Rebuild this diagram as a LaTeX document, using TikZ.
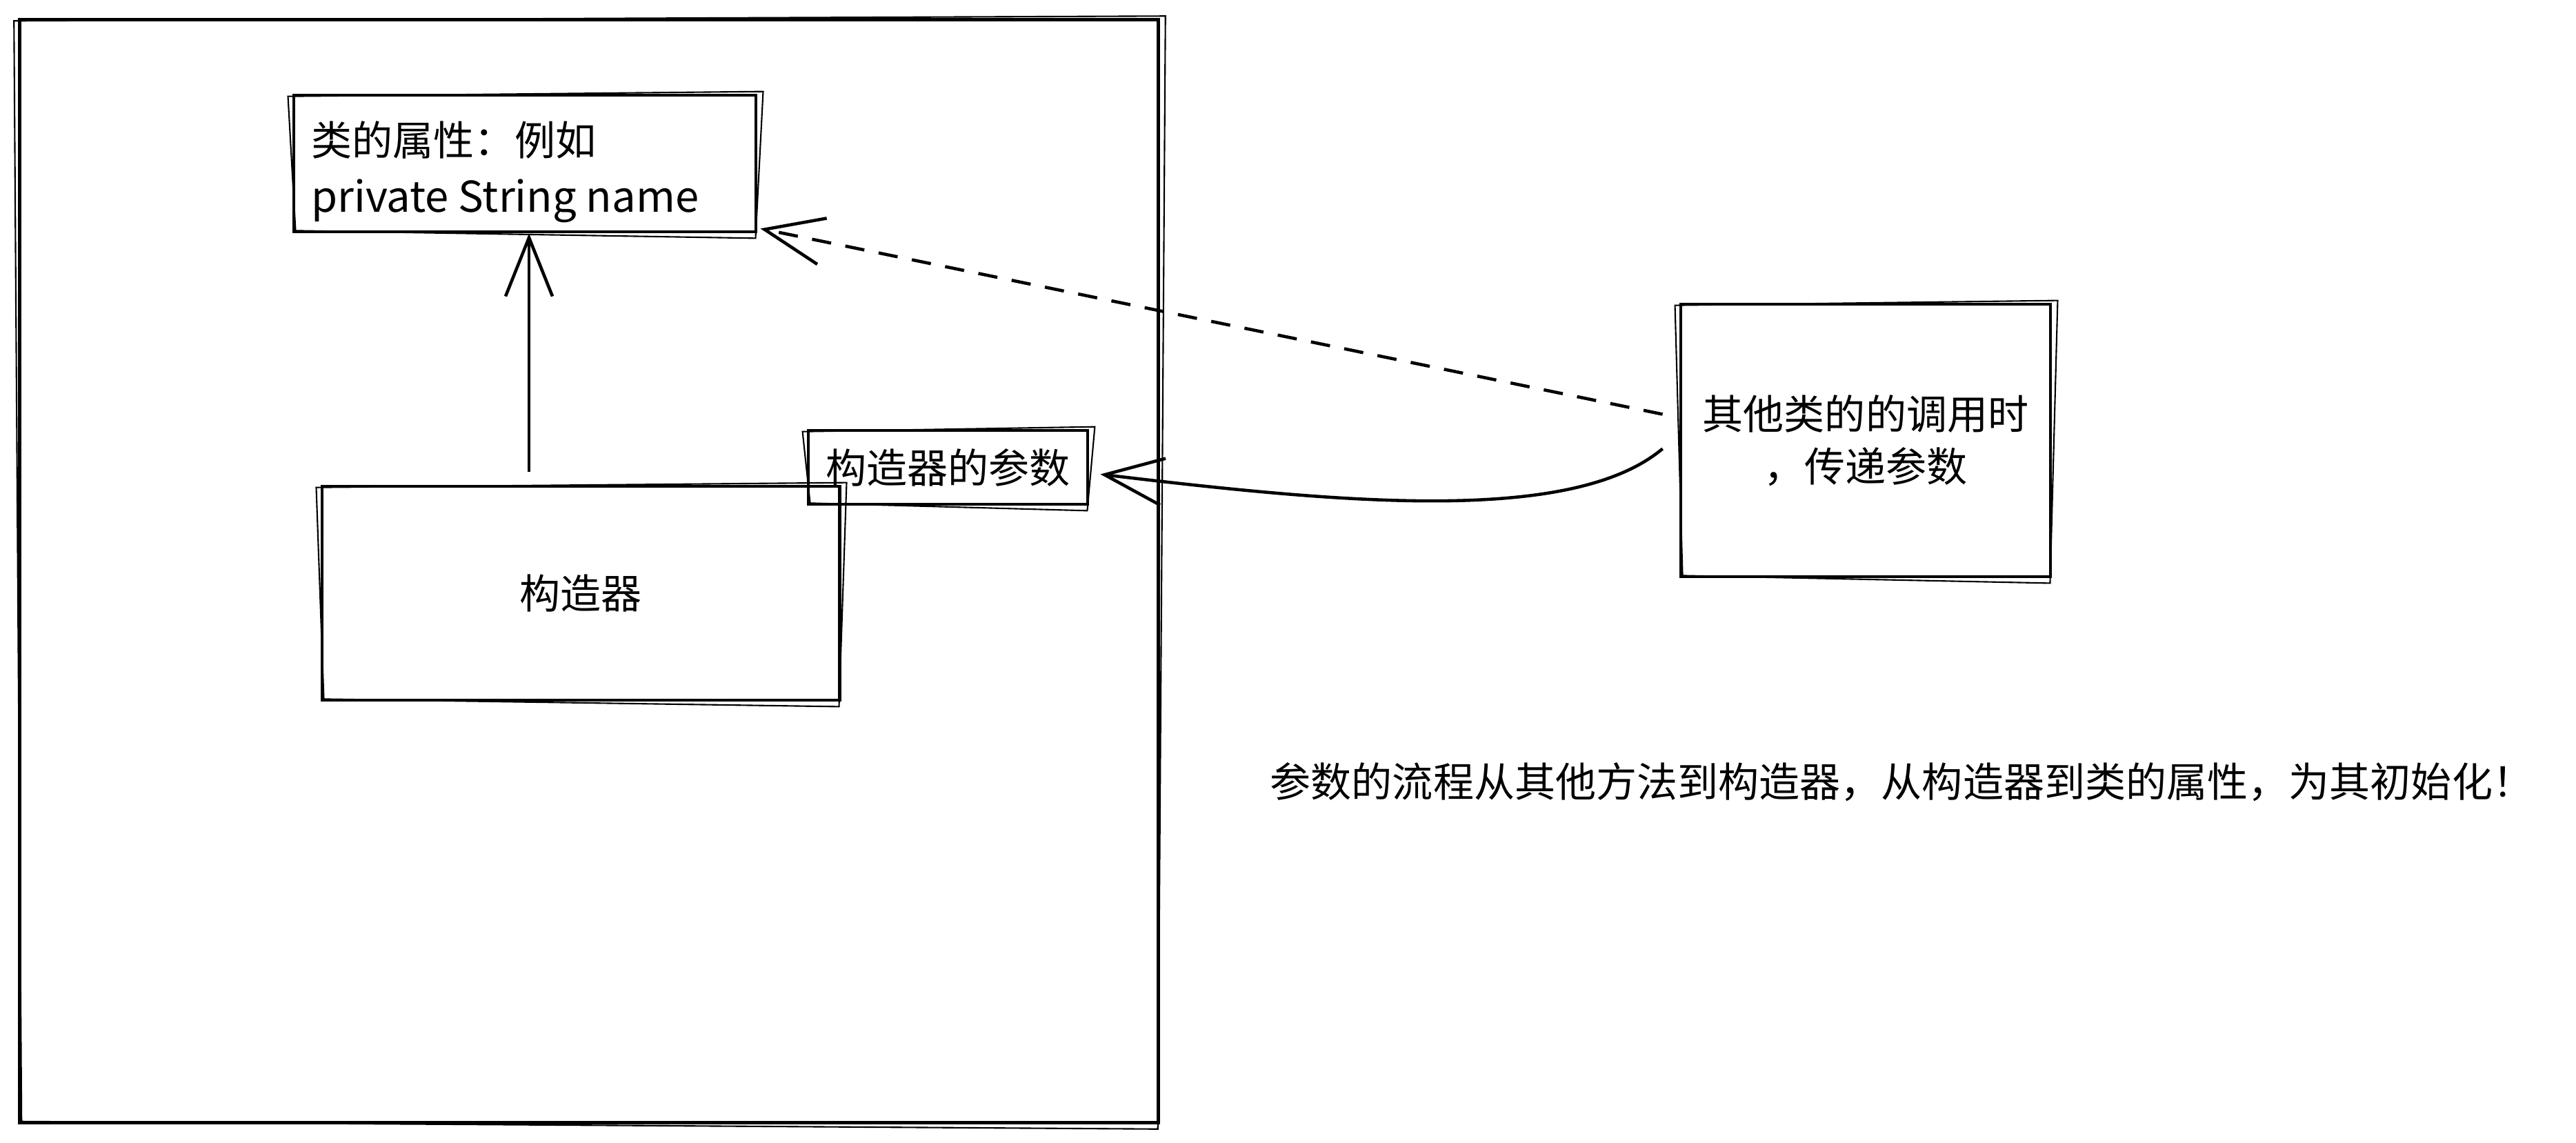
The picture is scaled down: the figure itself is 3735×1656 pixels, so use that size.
\documentclass[tikz,border=0pt]{standalone}
\usepackage{fontspec}
\setmainfont{Noto Sans CJK SC}
\usetikzlibrary{arrows.meta}
\newcommand\skb[1]{\draw[sk] ([shift={(-6,4)}]#1.north west) -- ([shift={(8,-3)}]#1.north east) -- ([shift={(-3,7)}]#1.south east) -- ([shift={(5,-4)}]#1.south west) -- cycle;}
\begin{document}
\begin{tikzpicture}[x=0.01cm,y=-0.01cm,
  box/.style={draw, line width=1.3pt, rectangle, inner sep=0pt},
  sk/.style={line width=0.6pt},
  txt/.style={font=\fontsize{16.8}{22}\selectfont},
  arr/.style={line width=1.3pt, -{Straight Barb[length=0.85cm,width=0.68cm]}},
]
\useasboundingbox (0,0) rectangle (3735,1656);
\fill[white] (0,0) rectangle (3735,1656);

\node[box, minimum width=16.5cm, minimum height=15.98cm] (outer) at (854,828) {};
\skb{outer}

\node[box, minimum width=6.70cm, minimum height=1.98cm] (attr) at (761,237) {};
\node[anchor=north west, inner sep=0pt, align=left, font=\fontsize{16.8}{23.5}\selectfont]
      (attrtext) at ([shift={(27,39)}]attr.north west)
      {类的属性：例如\\{\fontsize{17.5}{23.5}\selectfont private String name}};
\skb{attr}

\node[box, minimum width=7.5cm, minimum height=3.1cm, txt] (ctor) at (842,860) {构造器};
\skb{ctor}

\node[box, minimum width=4.05cm, minimum height=1.07cm, txt] (param) at (1374.5,677.5) {构造器的参数};
\skb{param}

\node[box, minimum width=5.36cm, minimum height=3.95cm, txt, align=center,
      font=\fontsize{16.8}{21.6}\selectfont] (caller) at (2705,638.5)
      {其他类的的调用时\\，传递参数};
\skb{caller}

\node[txt, anchor=west, inner sep=0pt] (note) at (1841,1134)
      {参数的流程从其他方法到构造器，从构造器到类的属性，为其初始化！};

\draw[arr] ([shift={(-75,-19)}]ctor.north) -- ([shift={(6,0)}]attr.south);
\draw[arr, dash pattern=on 8pt off 6pt] ([shift={(-24,-38)}]caller.west) -- ([shift={(4,-7)}]attr.south east);
\draw[arr] ([shift={(-24,12)}]caller.west) .. controls (2280,760) and (1950,730) .. ([shift={(16,10)}]param.east);
\end{tikzpicture}
\end{document}
